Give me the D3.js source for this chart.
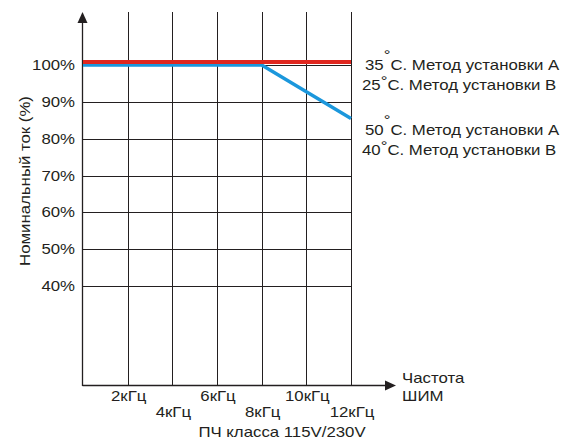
<!DOCTYPE html>
<html>
<head>
<meta charset="utf-8">
<script src="https://cdn.jsdelivr.net/npm/d3@7"></script>
<style>
  body { margin: 0; background: #fff; }
  svg text { font-family: "Liberation Sans", Arial, sans-serif; fill: #231f20; font-size: 14px; }
</style>
</head>
<body>
<svg id="chart" width="563" height="439"></svg>
<script>
var w = 563;
var h = 439;

// данные
var freqTicks = [2, 4, 6, 8, 10, 12];
var freqLabels = ["2кГц", "4кГц", "6кГц", "8кГц", "10кГц", "12кГц"];
var pctTicks = [40, 50, 60, 70, 80, 90, 100];
var redFreq = [0, 12];
var redPct = [100.8, 100.8];
var blueFreq = [0, 8, 12];
var bluePct = [100, 100, 85.5];
var legendTemps = ["35", "25", "50", "40"];
var legendText = ["C. Метод установки А", "C. Метод установки В", "C. Метод установки А", "C. Метод установки В"];

var axisY = 385; // положение оси X
var topY = 12;
var stretch = 1.2; // шрифт в оригинале шире обычного

var xScale = d3.scaleLinear().domain([0, 12]).range([83, 351]);
var yScale = d3.scaleLinear().domain([40, 100]).range([286, 65]);

var canvas = d3.select("#chart");
var ink = "#231f20";

// текст с растяжкой по горизонтали
function addText(x, y, anchor, str, extra) {
  var g = canvas.append("g")
    .attr("transform", `translate(${x},${y})${extra || ""} scale(${stretch},1)`);
  return g.append("text")
    .attr("text-anchor", anchor)
    .text(str);
}

// сетка
canvas.append("g")
  .selectAll("line")
  .data(freqTicks)
  .join("line")
  .attr("x1", d => Math.round(xScale(d)) + 0.5)
  .attr("x2", d => Math.round(xScale(d)) + 0.5)
  .attr("y1", topY)
  .attr("y2", axisY)
  .attr("stroke", ink)
  .attr("stroke-width", 1);

canvas.append("g")
  .selectAll("line")
  .data(pctTicks)
  .join("line")
  .attr("x1", xScale(0))
  .attr("x2", xScale(12) + 1)
  .attr("y1", d => Math.round(yScale(d)) + 0.5)
  .attr("y2", d => Math.round(yScale(d)) + 0.5)
  .attr("stroke", ink)
  .attr("stroke-width", 1);

// оси
var x0 = Math.round(xScale(0)) - 0.5;
canvas.append("line")
  .attr("x1", x0).attr("x2", 387)
  .attr("y1", axisY + 0.5).attr("y2", axisY + 0.5)
  .attr("stroke", ink).attr("stroke-width", 1.3);
canvas.append("line")
  .attr("x1", x0).attr("x2", x0)
  .attr("y1", axisY + 1).attr("y2", 20)
  .attr("stroke", ink).attr("stroke-width", 1.3);
canvas.append("path")
  .attr("d", `M${x0},${topY} L${x0 - 5},${topY + 11} L${x0 + 5},${topY + 11} Z`)
  .attr("fill", ink);
canvas.append("path")
  .attr("d", `M396,${axisY + 0.5} L385,${axisY - 4.5} L385,${axisY + 5.5} Z`)
  .attr("fill", ink);

// подписи по оси Y
pctTicks.forEach(function (d) {
  addText(75, yScale(d) + 5, "end", d + "%");
});

// подписи по оси X (в два ряда)
freqTicks.forEach(function (d, i) {
  addText(xScale(d) + 1, i % 2 == 0 ? 401 : 417, "middle", freqLabels[i]);
});

addText(282, 437, "middle", "ПЧ класса 115V/230V");
addText(402, 383, "start", "Частота");
addText(402, 401, "start", "ШИМ");
addText(30, 181, "middle", "Номинальный ток (%)", " rotate(-90)");

// кривые
var line = d3.line()
  .x(d => xScale(d[0]))
  .y(d => yScale(d[1]));

canvas.append("path")
  .datum(blueFreq.map((f, i) => [f, bluePct[i]]))
  .attr("d", line)
  .attr("fill", "none")
  .attr("stroke", "#1b97dc")
  .attr("stroke-width", 3.5);

canvas.append("path")
  .datum(redFreq.map((f, i) => [f, redPct[i]]))
  .attr("d", line)
  .attr("fill", "none")
  .attr("stroke", "#e0271f")
  .attr("stroke-width", 4);

// подписи справа
var legX = [365, 362, 365, 362];
var legY = [70, 90, 135, 155];
var ringUp = [-10, -4, -10, -4];
legendTemps.forEach(function (t, i) {
  var txt = addText(legX[i], legY[i], "start", null);
  txt.append("tspan").text(t);
  txt.append("tspan").attr("dy", ringUp[i]).text("°");
  txt.append("tspan").attr("dy", -ringUp[i]).text(legendText[i]);
});
</script>
</body>
</html>
